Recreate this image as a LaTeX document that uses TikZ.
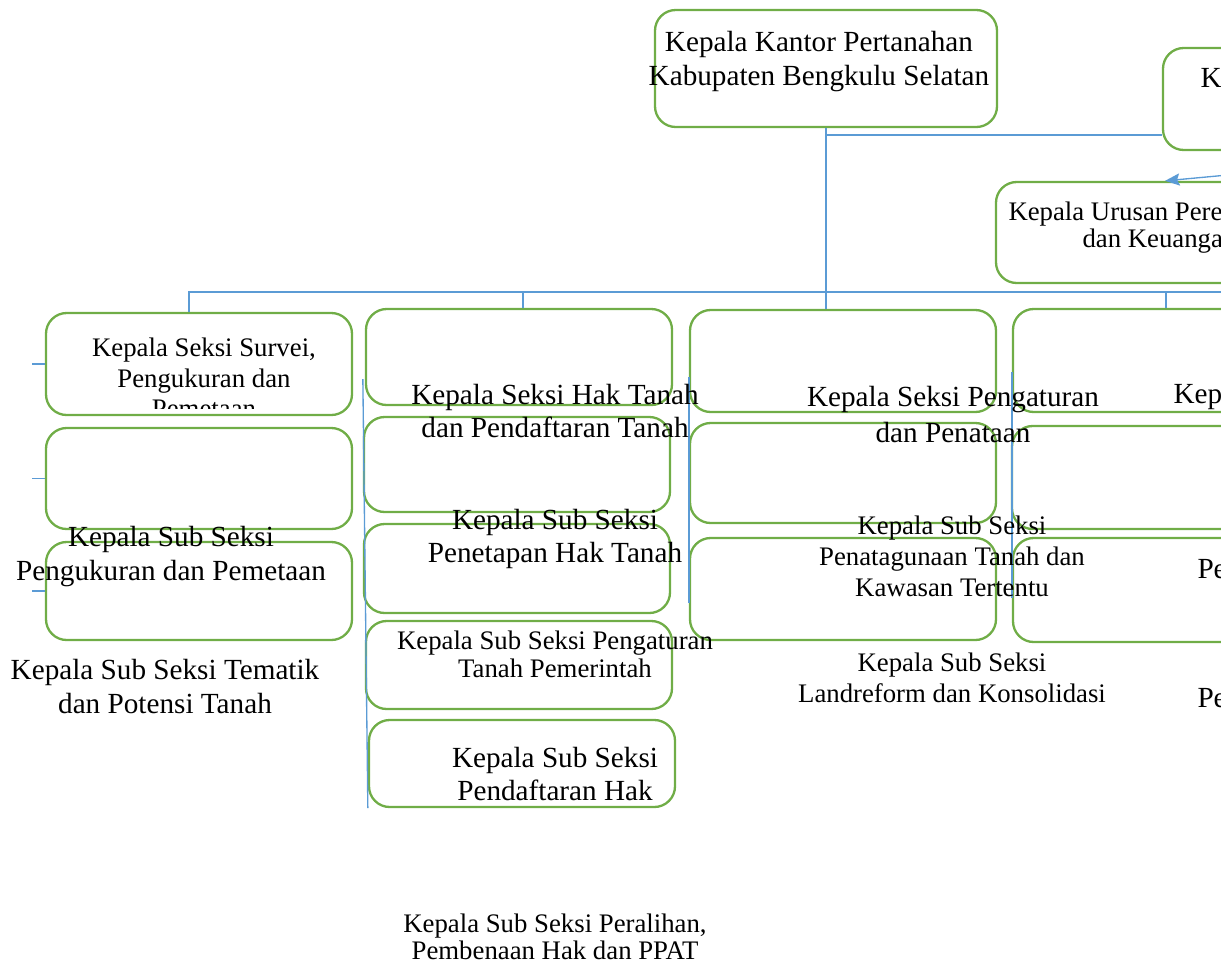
\documentclass[tikz,border=0pt]{standalone}
\usepackage{fontspec}
\setmainfont{Liberation Serif}
\usetikzlibrary{arrows.meta}

\definecolor{boxgreen}{HTML}{70AD47}
\definecolor{linkblue}{HTML}{5B9BD5}

\begin{document}
\begin{tikzpicture}
  [x=0.411pt,y=-0.411pt,
   box/.style 2 args={draw=boxgreen,line width=0.95pt,rounded corners=8.5pt,
     inner sep=0pt,minimum width=#1*0.411pt,minimum height=#2*0.411pt},
   link/.style={draw=linkblue,line width=0.55pt},
   big/.style={inner sep=0pt,align=center,font=\fontsize{12}{13.6}\selectfont},
   small/.style={inner sep=0pt,align=center,font=\fontsize{11}{12.6}\selectfont}]
  \useasboundingbox (0,0) rectangle (1221,967);
  \clip (0,0) rectangle (1221,967);

  % top row
  \node[box={342}{117}] (kantor) at (826,68.5) {};
  \node[box={306}{102}] (kasub) at (1316,99) {};
  \node[box={306}{101}] (urusan) at (1149,232.5) {};

  % seksi columns
  \node[box={306}{102}] (a1) at (199,364) {};
  \node[box={306}{101}] (a2) at (199,478.5) {};
  \node[box={306}{98}] (a3) at (199,591) {};

  \node[box={306}{96}] (b1) at (519,357) {};
  \node[box={306}{95}] (b2) at (517,464.5) {};
  \node[box={306}{89}] (b3) at (517,568.5) {};
  \node[box={306}{88}] (b4) at (519,665) {};
  \node[box={306}{87}] (b5) at (522,763.5) {};

  \node[box={306}{102}] (c1) at (843,361) {};
  \node[box={306}{100}] (c2) at (843,473) {};
  \node[box={306}{102}] (c3) at (843,589) {};

  \node[box={306}{103}] (d1) at (1166,360.5) {};
  \node[box={306}{103}] (d2) at (1165,477.5) {};
  \node[box={306}{104}] (d3) at (1166,590) {};

  % connectors
  \coordinate (busend) at (1260,292);
  \draw[link] (kantor.south) -- (kantor.south |- c1.north);
  \draw[link] (kantor.south |- 0,135) -- (kasub.west |- 0,135);
  \draw[link] (a1.north -| 189,0) |- (busend);
  \draw[link] (b1.north -| 523,0) -- (523,292);
  \draw[link] (d1.north) -- (d1.north |- busend);
  \draw[link,-{Stealth[inset=1pt,length=6pt,width=5pt]}] (1260,172) -- (urusan.north -| 1165,0);
  \foreach \b in {a1,a2,a3}
    \draw[link] (\b.west) -- ++(-13,0);
  \draw[link] (b2.west |- 0,379) -- (b5.west |- 0,808);
  \draw[link] (c1.west |- 0,377) -- (c1.west |- 0,603);
  \draw[link] (d1.west |- 0,372) -- (d1.west |- 0,598);

  % texts
  \node[big] (tKantor) at (819,61.5) {Kepala Kantor Pertanahan\\Kabupaten Bengkulu Selatan};
  \node[big,anchor=west] (tKasub) at (1200,78) {K};
  \node[small,anchor=west] (tUrusanA) at (1008,214) {Kepala Urusan Pere};
  \node[small,anchor=west] (tUrusanB) at (1082,241) {dan Keuanga};

  \begin{scope}
    \clip (46,313) rectangle (352,408);
    \node[small,font=\fontsize{11}{12.5}\selectfont] (tSurvei) at (204,378)
      {Kepala Seksi Survei,\\Pengukuran dan\\Pemetaan};
  \end{scope}
  \node[big] (tPengukuran) at (171,556.5) {Kepala Sub Seksi\\Pengukuran dan Pemetaan};
  \node[big] (tTematik) at (165,686.5) {Kepala Sub Seksi Tematik\\dan Potensi Tanah};

  \node[big] (tHak) at (555,411) {Kepala Seksi Hak Tanah\\dan Pendaftaran Tanah};
  \node[big] (tPenetapan) at (555,539) {Kepala Sub Seksi\\Penetapan Hak Tanah};
  \node[small,font=\fontsize{11}{11.5}\selectfont] (tPemerintah) at (555,654)
    {Kepala Sub Seksi Pengaturan\\Tanah Pemerintah};
  \node[big] (tPendaftaran) at (555,774) {Kepala Sub Seksi\\Pendaftaran Hak};
  \node[small,font=\fontsize{11}{11.1}\selectfont] (tPeralihan) at (555,936.5)
    {Kepala Sub Seksi Peralihan,\\Pembenaan Hak dan PPAT};

  \node[big,font=\fontsize{12}{14.4}\selectfont] (tPenataan) at (953,414.5)
    {Kepala Seksi Pengaturan\\dan Penataan};
  \node[small,font=\fontsize{11}{12.7}\selectfont] (tPenatagunaan) at (952,556)
    {Kepala Sub Seksi\\Penatagunaan Tanah dan\\Kawasan Tertentu};
  \node[small,font=\fontsize{11}{12.7}\selectfont] (tLandreform) at (952,677.5)
    {Kepala Sub Seksi\\Landreform dan Konsolidasi};

  \node[big,anchor=west] (tKep) at (1173,397) {Kep};
  \node[big,anchor=west] (tPeA) at (1197,569) {Pe};
  \node[big,anchor=west] (tPeB) at (1197,698) {Pe};
\end{tikzpicture}
\end{document}
